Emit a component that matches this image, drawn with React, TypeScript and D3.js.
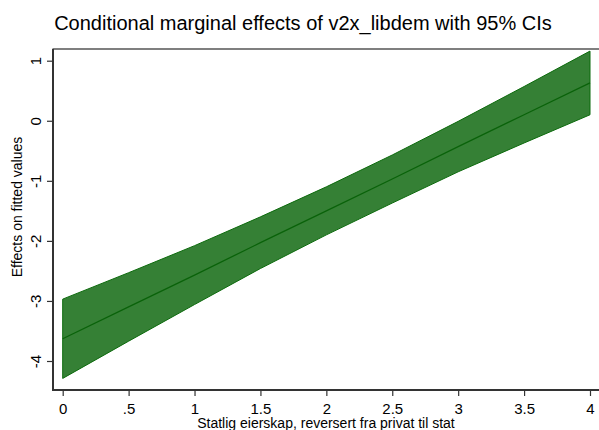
import { useEffect, useRef } from "react"
import * as d3 from "d3"

const xValues = [0, 0.5, 1, 1.5, 2, 2.5, 3, 3.5, 4]
const effect = [-3.63, -3.1, -2.57, -2.03, -1.5, -0.97, -0.43, 0.1, 0.63]
const upper = [-2.97, -2.53, -2.08, -1.6, -1.1, -0.57, -0.01, 0.57, 1.16]
const lower = [-4.29, -3.67, -3.06, -2.46, -1.9, -1.37, -0.85, -0.37, 0.1]
const xTicks = [0, 0.5, 1, 1.5, 2, 2.5, 3, 3.5, 4]
const xTickLabels = ["0", ".5", "1", "1.5", "2", "2.5", "3", "3.5", "4"]
const yTicks = [-4, -3, -2, -1, 0, 1]

const title = "Conditional marginal effects of v2x_libdem with 95% CIs"
const xTitle = "Statlig eierskap, reversert fra privat til stat"
const yTitle = "Effects on fitted values"

export default function App() {
    const ref = useRef<SVGSVGElement>(null)

    useEffect(() => {
        const width = 599, height = 430
        const left = 53, top = 49, bottom = 390, right = 640
        const svg = d3.select(ref.current)
        svg.selectAll("*").remove()

        const font = "'Liberation Sans', Arial, sans-serif"

        // 0 sits at x=62.7, 4 at x=590
        const xScale = d3.scaleLinear().domain([0, 4]).range([62.7, 590])
        const yScale = d3.scaleLinear().domain([-4, 1]).range([361, 60.7])

        const rows = xValues.map((x, i) => ({ x, m: effect[i], hi: upper[i], lo: lower[i] }))

        // plot region outline (right edge falls outside the window)
        svg.append("rect")
            .attr("x", left)
            .attr("y", top)
            .attr("width", right - left)
            .attr("height", bottom - top)
            .attr("fill", "white")
            .attr("stroke", "black")
            .attr("stroke-width", 1)

        const band = d3.area<any>()
            .x((d) => xScale(d.x))
            .y0((d) => yScale(d.lo))
            .y1((d) => yScale(d.hi))

        svg.append("path")
            .datum(rows)
            .attr("d", band)
            .attr("fill", "#358035")
            .attr("stroke", "#0c6a0c")
            .attr("stroke-width", 1)

        const line = d3.line<any>()
            .x((d) => xScale(d.x))
            .y((d) => yScale(d.m))

        svg.append("path")
            .datum(rows)
            .attr("d", line)
            .attr("fill", "none")
            .attr("stroke", "#0a620a")
            .attr("stroke-width", 1.3)

        // axes
        const yAxis = d3.axisLeft(yScale)
            .tickValues(yTicks)
            .tickSize(6)
            .tickFormat((d) => String(d))

        const gy = svg.append("g")
            .attr("transform", `translate(${left}, 0)`)
            .call(yAxis)
        gy.select(".domain").remove()
        gy.selectAll("line").attr("stroke", "#333").attr("stroke-width", 1.2)
        gy.selectAll("text")
            .attr("x", null)
            .attr("dy", null)
            .attr("y", 0)
            .attr("transform", "translate(-12, 0) rotate(-90)")
            .style("text-anchor", "middle")
            .style("font-family", font)
            .style("font-size", "15px")
            .attr("fill", "black")

        const xAxis = d3.axisBottom(xScale)
            .tickValues(xTicks)
            .tickSize(6)
            .tickPadding(7)
            .tickFormat((d: any, i) => xTickLabels[i])

        const gx = svg.append("g")
            .attr("transform", `translate(0, ${bottom})`)
            .call(xAxis)
        gx.select(".domain").remove()
        gx.selectAll("line").attr("stroke", "#333").attr("stroke-width", 1.2)
        gx.selectAll("text")
            .style("font-family", font)
            .style("font-size", "15px")
            .attr("fill", "black")

        svg.append("line")
            .attr("x1", left).attr("x2", left)
            .attr("y1", top).attr("y2", bottom + 1)
            .attr("stroke", "#333").attr("stroke-width", 2)
        svg.append("line")
            .attr("x1", left - 1).attr("x2", width)
            .attr("y1", bottom).attr("y2", bottom)
            .attr("stroke", "#333").attr("stroke-width", 2)

        svg.append("text")
            .attr("x", 303)
            .attr("y", 30)
            .attr("text-anchor", "middle")
            .style("font-family", font)
            .style("font-size", "20px")
            .text(title)

        svg.append("text")
            .attr("x", 326)
            .attr("y", 428)
            .attr("text-anchor", "middle")
            .style("font-family", font)
            .style("font-size", "14px")
            .text(xTitle)

        svg.append("text")
            .attr("transform", `translate(22, 207) rotate(-90)`)
            .attr("text-anchor", "middle")
            .style("font-family", font)
            .style("font-size", "14px")
            .text(yTitle)

        svg.attr("width", width).attr("height", height)
    }, [])

    return (
        <svg ref={ref} width={599} height={430}
            style={{ position: "absolute", left: 0, top: 0, background: "white" }} />
    )
}
